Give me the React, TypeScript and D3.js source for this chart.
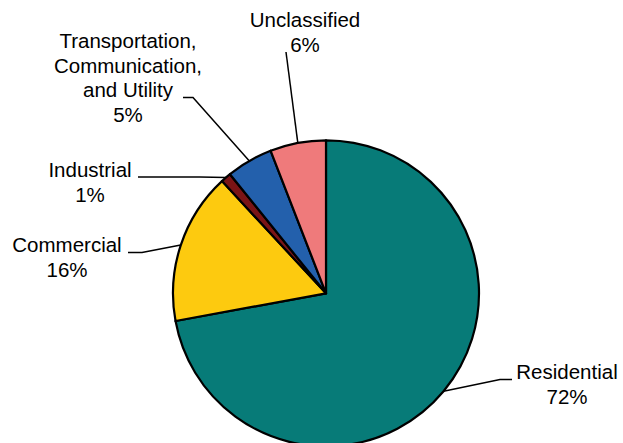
import React from "react";
import * as d3 from "d3";

const categories = ["Residential", "Commercial", "Industrial", "Transportation, Communication, and Utility", "Unclassified"];
const values = [72.1, 16.0, 1.1, 4.9, 5.9];
const percentLabels = ["72%", "16%", "1%", "5%", "6%"];
const labelLines = [
  ["Residential"],
  ["Commercial"],
  ["Industrial"],
  ["Transportation,", "Communication,", "and Utility"],
  ["Unclassified"],
];
const colors = ["#077B78", "#FDCA0F", "#7A1416", "#2360AC", "#EF7A7B"];

// layout: label text center x, first baseline y, elbow point, horizontal end
const labelLayout = [
  { x: 567, y: 379, elbow: [500, 379.5], end: [512, 379.5] },
  { x: 67, y: 252, elbow: [142, 252.5], end: [128, 252.5] },
  { x: 90, y: 177, elbow: [200, 177], end: [138, 177] },
  { x: 128, y: 48.3, elbow: [193, 97.5], end: [183, 97.5] },
  { x: 305, y: 27.3, elbow: [286, 52], end: [286, 52] },
];

const W = 623;
const H = 443;
const cx = 326;
const cy = 293.3;
const R = 153;
const lineH = 24.5;

export default function App() {
  const pie = d3.pie<number>().sort(null).value((d) => d)(values);
  const arc = d3.arc<d3.PieArcDatum<number>>().innerRadius(0).outerRadius(R);

  return (
    <svg
      width={W}
      height={H}
      style={{ position: "absolute", left: 0, top: 0, background: "#fff" }}
      fontFamily="'Liberation Sans', Arial, sans-serif"
    >
      <g transform={`translate(${cx},${cy})`}>
        {pie.map((p, i) => (
          <path key={i} d={arc(p) || ""} fill={colors[i]} stroke="#000" strokeWidth={2.2} strokeLinejoin="round" />
        ))}
      </g>
      {pie.map((p, i) => {
        const mid = (p.startAngle + p.endAngle) / 2;
        const ax = cx + Math.sin(mid) * R;
        const ay = cy - Math.cos(mid) * R;
        const L = labelLayout[i];
        const pts = `${ax},${ay} ${L.elbow[0]},${L.elbow[1]} ${L.end[0]},${L.end[1]}`;
        const lines = [...labelLines[i], percentLabels[i]];
        return (
          <g key={"l" + i}>
            <polyline points={pts} fill="none" stroke="#000" strokeWidth={1.5} />
            <text textAnchor="middle" fontSize={20.5} fill="#000">
              {lines.map((t, j) => (
                <tspan key={j} x={L.x} y={L.y + j * lineH}>
                  {t}
                </tspan>
              ))}
            </text>
          </g>
        );
      })}
    </svg>
  );
}
